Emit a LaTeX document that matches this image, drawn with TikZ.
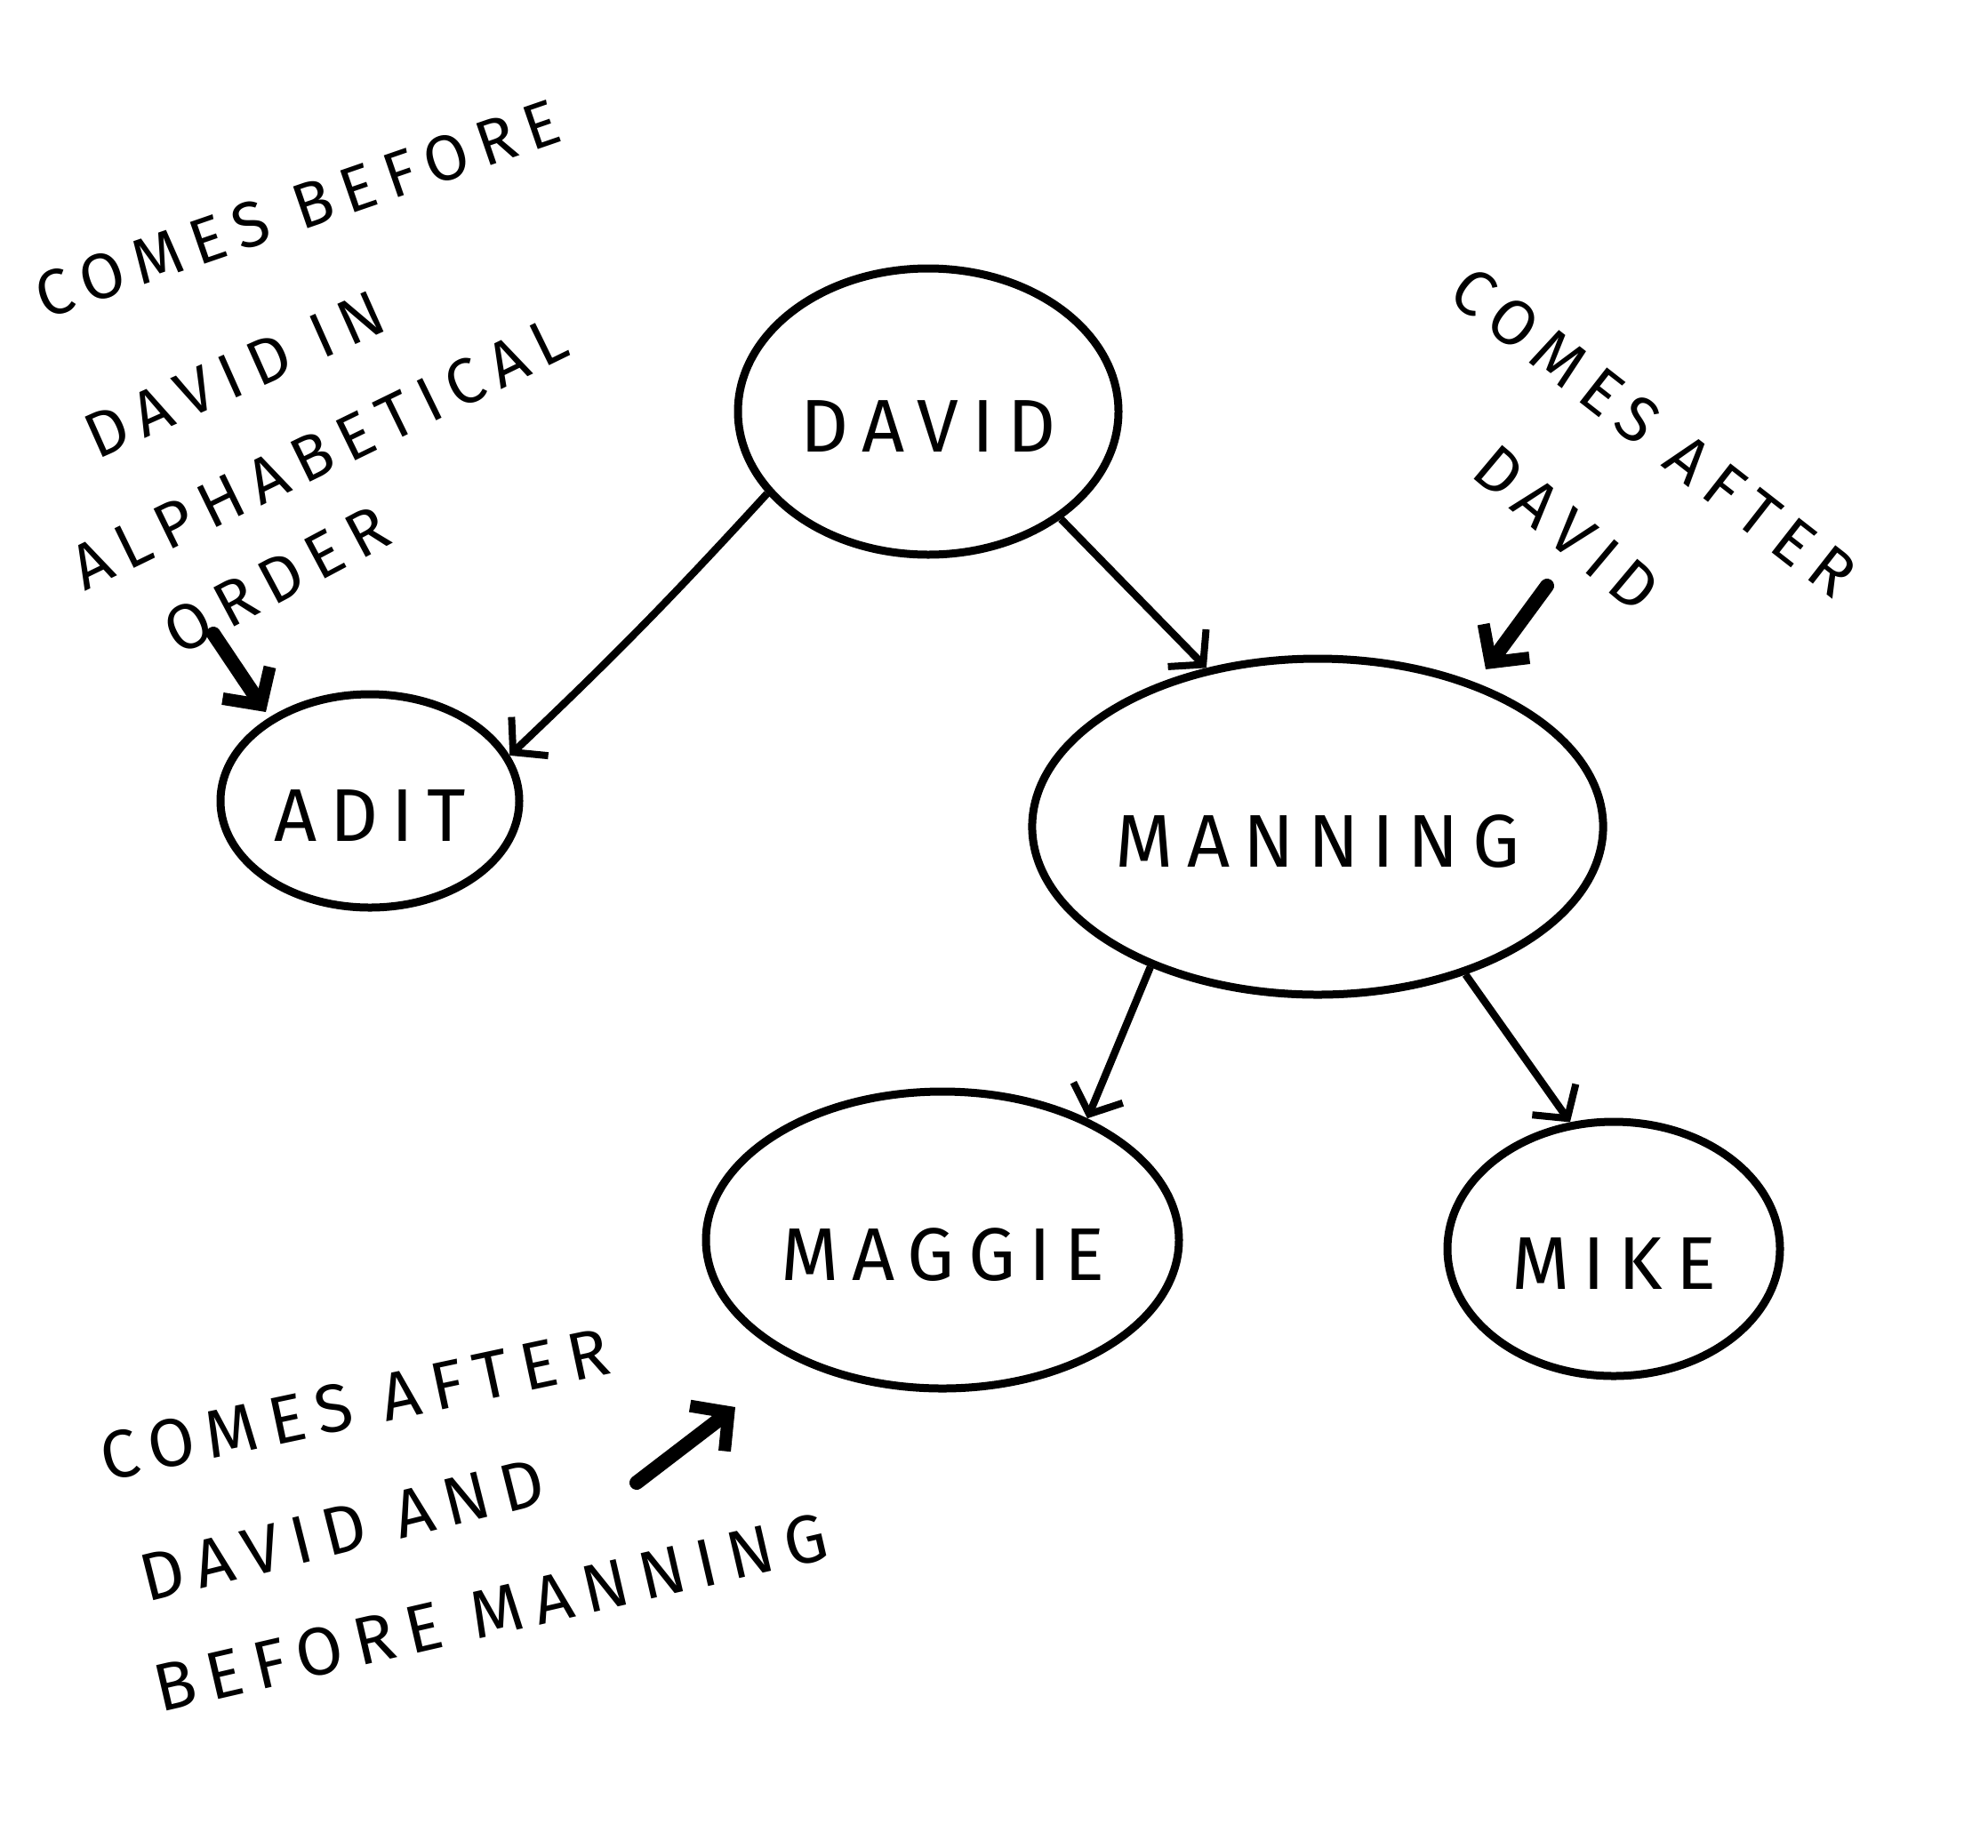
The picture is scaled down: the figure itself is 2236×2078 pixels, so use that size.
\documentclass[tikz,border=0pt]{standalone}
\usepackage{fontspec}
\setmainfont[LetterSpace=18]{Fira Sans}
\usetikzlibrary{shapes.geometric,arrows.meta}
\tikzset{
  bubble/.style={draw=black, line width=4.5pt, ellipse, inner sep=0pt,
    font=\fontsize{42}{42}\selectfont, text height=45pt, text depth=0pt},
  edge/.style={line width=4.2pt, draw=black, -{Straight Barb[length=13pt,width=30pt,line width=4pt]}},
  pointer/.style={line width=8pt, line cap=round, -{Straight Barb[length=15pt,width=32pt,line width=7pt]}},
  note/.style={font=\fontsize{36}{36}\selectfont, inner sep=0pt},
  bignote/.style={font=\fontsize{38}{38}\selectfont, inner sep=0pt}
}
\begin{document}
\begin{tikzpicture}[x=0.5pt,y=-0.5pt]
\useasboundingbox (0,0) rectangle (2236,2078);
% tree nodes
\node[bubble, minimum width=214pt, minimum height=161pt] (david) at (1044,463) {DAVID};
\node[bubble, minimum width=168pt, minimum height=120pt] (adit) at (416,901) {ADIT};
\node[bubble, minimum width=312pt, minimum height=189pt] (manning) at (1482,930) {MANNING};
\node[bubble, minimum width=266pt, minimum height=167pt] (maggie) at (1060,1395) {MAGGIE};
\node[bubble, minimum width=187pt, minimum height=143pt] (mike) at (1815,1405) {MIKE};
% edges
\draw[edge] (david.207) to[bend left=2] (adit.18);
\draw[edge] (david.321) -- (manning.125);
\draw[edge] (manning.220) -- (maggie.40);
\draw[edge] (manning.315) -- (mike.109);
% annotations
\node[note, rotate=19] (n1a) at (335,235) {COMES BEFORE};
\node[note, rotate=24] (n1b) at (264,421) {DAVID IN};
\node[note, rotate=26] (n1c) at (359,510) {ALPHABETICAL};
\node[note, rotate=28] (n1d) at (311,652) {ORDER};
\node[note, rotate=-38] (n2a) at (1860,486) {COMES AFTER};
\node[note, rotate=-40] (n2b) at (1762,594) {DAVID};
\node[bignote, rotate=12] (n3a) at (399,1580) {COMES AFTER};
\node[bignote, rotate=14] (n3b) at (385,1721) {DAVID AND};
\node[bignote, rotate=13] (n3c) at (552,1814) {BEFORE MANNING};
% annotation arrows
\coordinate (p1s) at (240,713);
\coordinate (p1e) at (299,801);
\coordinate (p2s) at (1740,659);
\coordinate (p2e) at (1671,753);
\coordinate (p3s) at (716,1668);
\coordinate (p3e) at (827,1583);
\draw[pointer] (p1s) -- (p1e);
\draw[pointer] (p2s) -- (p2e);
\draw[pointer] (p3s) -- (p3e);
\end{tikzpicture}
\end{document}
